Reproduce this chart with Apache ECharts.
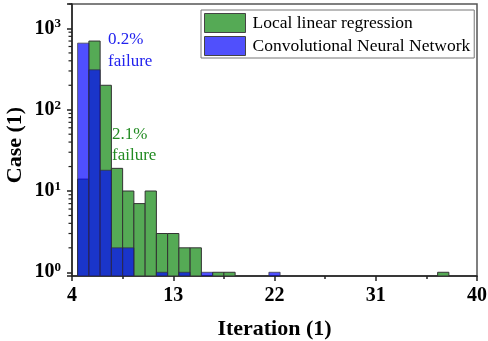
<html>
<head>
    <meta charset="utf-8">
    <title>Iteration histogram</title>
    <script src="https://cdn.jsdelivr.net/npm/echarts@6/dist/echarts.min.js"></script>
</head>
<body style="margin:0">
<div id="chartmain" style="width: 488px; height: 341px;"></div>
</body>
<script type="text/javascript">
    // iteration bins (bar centres) and case counts per method
    var bins = [5, 6, 7, 8, 9, 10, 11, 12, 13, 14, 15, 16, 17, 18, 22, 37];
    var llrCounts = [14, 700, 200, 19, 10, 7, 10, 3, 3, 2, 2, 0, 1, 1, 0, 1];
    var cnnCounts = [660, 310, 18, 2, 2, 0, 0, 1, 0, 1, 0, 1, 0, 0, 1, 0];
    var xTicks = [4, 13, 22, 31, 40];
    var yMin = 0.9, yMax = 2000;
    // log minor tick values (2..9 in every decade)
    var yMinorTicks = [2, 3, 4, 5, 6, 7, 8, 9, 20, 30, 40, 50, 60, 70, 80, 90,
        200, 300, 400, 500, 600, 700, 800, 900, 2000];

    function pairs(counts) {
        var out = [];
        for (var i = 0; i < bins.length; i++) {
            out.push([bins[i], counts[i]]);
        }
        return out;
    }

    // bars drawn from the axis bottom (log axis bars would otherwise start at 1)
    function barRenderer(fill, opacity) {
        return function (params, api) {
            var x = api.value(0), v = api.value(1);
            if (!(v > 0)) return null;
            var p1 = api.coord([x - 0.5, v]);
            var p2 = api.coord([x + 0.5, yMin]);
            return {
                type: 'rect',
                shape: {x: p1[0], y: p1[1], width: p2[0] - p1[0], height: p2[1] - p1[1]},
                style: {fill: fill, stroke: '#333', lineWidth: 1, opacity: opacity}
            };
        };
    }

    var serif = 'Liberation Serif';
    var myChart = echarts.init(document.getElementById('chartmain'));

    var annotations = [
        {type: 'text', left: 108, top: 29, z: 100,
            style: {text: '0.2%\nfailure', fill: '#2222ee', font: '17px "Liberation Serif"', lineHeight: 22}},
        {type: 'text', left: 112, top: 124, z: 100,
            style: {text: '2.1%\nfailure', fill: '#228b22', font: '17px "Liberation Serif"', lineHeight: 21}}
    ];

    var option = {
        animation: false,
        grid: {
            left: 72, right: 11, top: 4, bottom: 65,
            outerBoundsMode: 'none',
            containLabel: false,
            show: true, borderColor: '#555', borderWidth: 1.5
        },
        legend: {
            orient: 'vertical',
            left: 201, top: 10,
            padding: [3, 4, 2, 3],
            itemGap: 3,
            itemWidth: 41,
            itemHeight: 19,
            borderColor: '#777',
            borderWidth: 1,
            backgroundColor: '#fff',
            textStyle: {fontFamily: serif, fontSize: 17.5, color: '#000', padding: [0, 0, 0, 2]},
            data: [
                {name: 'Local linear regression', icon: 'rect',
                    itemStyle: {color: '#55aa55', borderColor: '#444', borderWidth: 1}},
                {name: 'Convolutional Neural Network', icon: 'rect',
                    itemStyle: {color: '#5050fc', borderColor: '#444', borderWidth: 1}}
            ]
        },
        xAxis: {
            type: 'value',
            min: xTicks[0], max: xTicks[xTicks.length - 1], interval: 9,
            name: 'Iteration (1)',
            nameLocation: 'middle',
            nameGap: 42,
            nameTextStyle: {fontFamily: serif, fontWeight: 'bold', fontSize: 22, color: '#000'},
            axisLine: {lineStyle: {color: '#222', width: 1.5}},
            axisTick: {length: 5, lineStyle: {color: '#222', width: 1.5}},
            minorTick: {show: true, splitNumber: 2, length: 3, lineStyle: {color: '#222', width: 1.5}},
            axisLabel: {fontFamily: serif, fontWeight: 'bold', fontSize: 20, color: '#000', margin: 10},
            splitLine: {show: false}
        },
        yAxis: {
            type: 'log',
            logBase: 10,
            min: yMin, max: yMax,
            name: 'Case (1)',
            nameLocation: 'middle',
            nameGap: 46,
            nameMoveOverlap: false,
            nameTextStyle: {fontFamily: serif, fontWeight: 'bold', fontSize: 22, color: '#000',
                padding: [0, 10, 0, 0]},
            axisLine: {show: true, lineStyle: {color: '#222', width: 1.5}},
            axisTick: {show: true, length: 5, lineStyle: {color: '#222', width: 1.5}},
            splitLine: {show: false},
            axisLabel: {
                margin: 11,
                formatter: function (value) {
                    var e = Math.log(value) / Math.LN10;
                    if (Math.abs(e - Math.round(e)) > 1e-6) return '';
                    return '{b|10}{s|' + Math.round(e) + '}';
                },
                rich: {
                    b: {fontFamily: serif, fontWeight: 'bold', fontSize: 20, color: '#000'},
                    s: {fontFamily: serif, fontWeight: 'bold', fontSize: 13, color: '#000', padding: [0, 0, 9, 0]}
                }
            }
        },
        graphic: annotations,
        series: [
            {
                name: 'Local linear regression',
                type: 'custom',
                clip: true,
                renderItem: barRenderer('#55aa55', 1),
                data: pairs(llrCounts),
                z: 2
            },
            {
                name: 'Convolutional Neural Network',
                type: 'custom',
                clip: true,
                renderItem: barRenderer('#0000ff', 0.69),
                data: pairs(cnnCounts),
                z: 3
            }
        ]
    };

    myChart.setOption(option);

    // log minor ticks, placed through the chart's own y scale
    var minorTicks = yMinorTicks.map(function (v) {
        var p = myChart.convertToPixel({gridIndex: 0}, [xTicks[0], v]);
        return {
            type: 'line', z: 100, silent: true,
            shape: {x1: p[0] - 3.5, y1: p[1], x2: p[0], y2: p[1]},
            style: {stroke: '#222', lineWidth: 1.2}
        };
    });
    myChart.setOption({graphic: annotations.concat(minorTicks)}, {replaceMerge: ['graphic']});
</script>
</html>
